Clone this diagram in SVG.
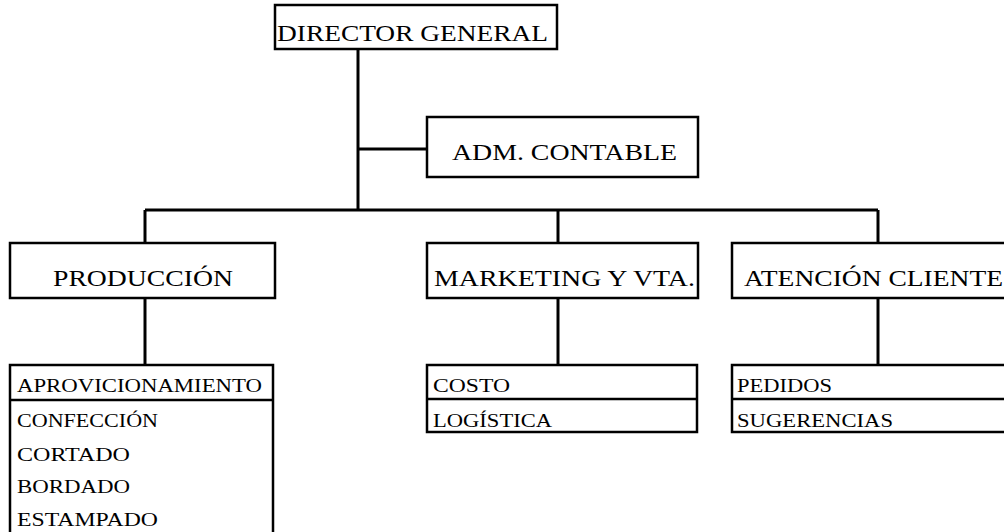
<svg xmlns="http://www.w3.org/2000/svg" width="1004" height="532" viewBox="0 0 1004 532">
<style>
.box{fill:none;stroke:#000;stroke-width:2.5}
.sep{stroke:#000;stroke-width:2.5}
.ln{fill:none;stroke:#000;stroke-width:3}
.big{font-family:"Liberation Serif","Times New Roman",serif;font-size:23px;fill:#000}
.small{font-family:"Liberation Serif","Times New Roman",serif;font-size:19px;fill:#000}
</style>
<rect width="1004" height="532" fill="#fff"/>
<g id="connectors">
<path class="ln" d="M358 50 V210"/>
<path class="ln" d="M358 149 H427"/>
<path class="ln" d="M145 210 H878"/>
<path class="ln" d="M145 210 V243"/>
<path class="ln" d="M558 210 V243"/>
<path class="ln" d="M878 210 V243"/>
<path class="ln" d="M145 298 V365"/>
<path class="ln" d="M558 298 V365"/>
<path class="ln" d="M878 298 V365"/>
</g>
<g id="director">
<rect class="box" x="275" y="5" width="282" height="44"/>
<text class="big" x="277" y="41" textLength="271" lengthAdjust="spacingAndGlyphs">DIRECTOR GENERAL</text>
</g>
<g id="adm">
<rect class="box" x="427" y="117" width="271" height="60"/>
<text class="big" x="452" y="160" textLength="225" lengthAdjust="spacingAndGlyphs">ADM. CONTABLE</text>
</g>
<g id="produccion">
<rect class="box" x="10" y="243" width="265" height="55"/>
<text class="big" x="53" y="286" textLength="180" lengthAdjust="spacingAndGlyphs">PRODUCCIÓN</text>
</g>
<g id="marketing">
<rect class="box" x="427" y="243" width="271" height="55"/>
<text class="big" x="434" y="286" textLength="261" lengthAdjust="spacingAndGlyphs">MARKETING Y VTA.</text>
</g>
<g id="atencion">
<rect class="box" x="732" y="243" width="290" height="55"/>
<text class="big" x="744" y="286" textLength="259" lengthAdjust="spacingAndGlyphs">ATENCIÓN CLIENTE</text>
</g>
<g id="produccion-tareas">
<rect class="box" x="10" y="365" width="263" height="180"/>
<line class="sep" x1="10" y1="400" x2="273" y2="400"/>
<text class="small" x="17" y="392" textLength="245" lengthAdjust="spacingAndGlyphs">APROVICIONAMIENTO</text>
<text class="small" x="17" y="427" textLength="141" lengthAdjust="spacingAndGlyphs">CONFECCIÓN</text>
<text class="small" x="17" y="461" textLength="113" lengthAdjust="spacingAndGlyphs">CORTADO</text>
<text class="small" x="17" y="493" textLength="113" lengthAdjust="spacingAndGlyphs">BORDADO</text>
<text class="small" x="17" y="526" textLength="141" lengthAdjust="spacingAndGlyphs">ESTAMPADO</text>
</g>
<g id="marketing-tareas">
<rect class="box" x="427" y="365" width="270" height="67"/>
<line class="sep" x1="427" y1="399" x2="697" y2="399"/>
<text class="small" x="433" y="392" textLength="77" lengthAdjust="spacingAndGlyphs">COSTO</text>
<text class="small" x="433" y="427" textLength="119" lengthAdjust="spacingAndGlyphs">LOGÍSTICA</text>
</g>
<g id="atencion-tareas">
<rect class="box" x="732" y="365" width="290" height="67"/>
<line class="sep" x1="732" y1="399" x2="1010" y2="399"/>
<text class="small" x="737" y="392" textLength="95" lengthAdjust="spacingAndGlyphs">PEDIDOS</text>
<text class="small" x="737" y="427" textLength="156" lengthAdjust="spacingAndGlyphs">SUGERENCIAS</text>
</g>
</svg>
